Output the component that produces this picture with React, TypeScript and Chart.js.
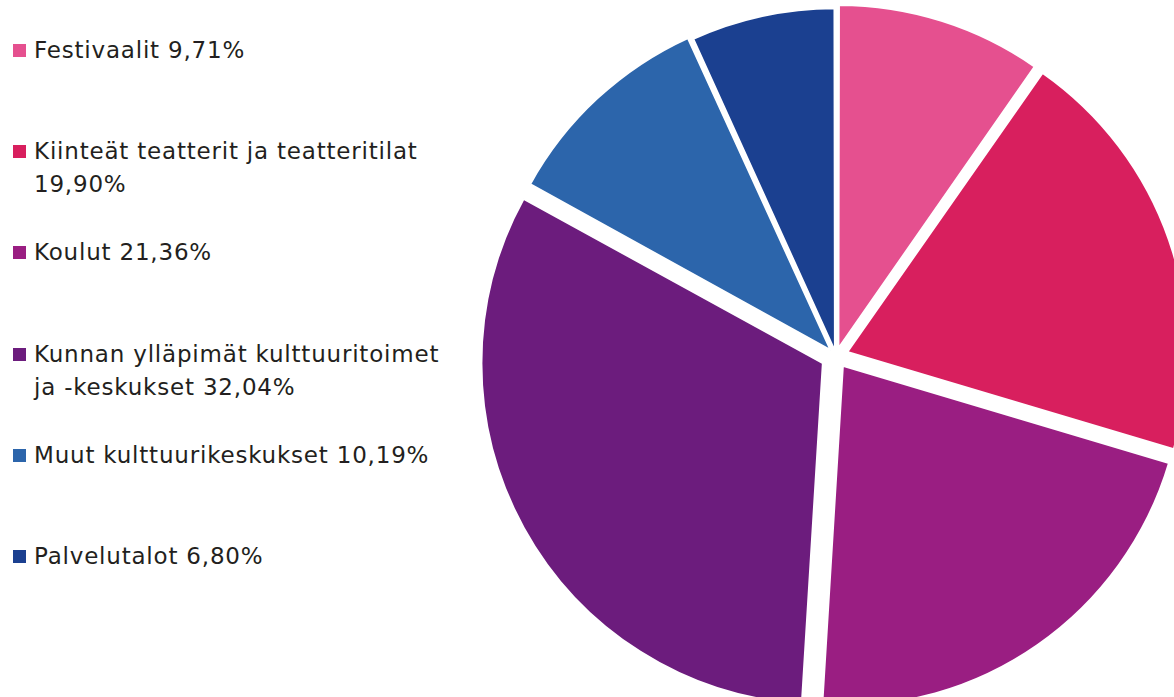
import React, { useEffect, useRef } from "react";
import { Chart, registerables } from "chart.js";

Chart.register(...registerables);

const categories = [
  "Festivaalit",
  "Kiinteät teatterit ja teatteritilat",
  "Koulut",
  "Kunnan ylläpimät kulttuuritoimet ja -keskukset",
  "Muut kulttuurikeskukset",
  "Palvelutalot",
];
const values = [9.71, 19.9, 21.36, 32.04, 10.19, 6.8];
const valueLabels = ["9,71%", "19,90%", "21,36%", "32,04%", "10,19%", "6,80%"];
// Legend line breaks as in the reference
const legendLines = [
  ["Festivaalit 9,71%"],
  ["Kiinteät teatterit ja teatteritilat", "19,90%"],
  ["Koulut 21,36%"],
  ["Kunnan ylläpimät kulttuuritoimet", "ja -keskukset 32,04%"],
  ["Muut kulttuurikeskukset 10,19%"],
  ["Palvelutalot 6,80%"],
];

const sliceColors = ["#E5508F", "#D81F5E", "#9A1E82", "#6C1C7D", "#2C65AB", "#1B4090"];
// Chart.js draws arcs shifted by offset / 4 pixels
const sliceOffsets = [8, 12, 12, 15, 8, 5].map((o) => o * 4);

export default function App() {
  const ref = useRef<HTMLCanvasElement | null>(null);

  useEffect(() => {
    if (!ref.current) return;
    const chart = new Chart(ref.current, {
      type: "pie",
      data: {
        labels: categories.map((c, i) => `${c} ${valueLabels[i]}`),
        datasets: [
          {
            data: values,
            backgroundColor: sliceColors,
            borderColor: "#ffffff",
            borderWidth: 2,
            offset: sliceOffsets,
          },
        ],
      },
      options: {
        animation: false,
        responsive: false,
        devicePixelRatio: 1,
        radius: 340,
        layout: { padding: 0 },
        plugins: {
          legend: { display: false },
          tooltip: { enabled: false },
        },
      },
    });
    return () => chart.destroy();
  }, []);

  return (
    <div
      style={{
        position: "fixed",
        left: 0,
        top: 0,
        width: 1174,
        height: 697,
        overflow: "hidden",
        background: "#ffffff",
      }}
    >
      <canvas
        ref={ref}
        width={760}
        height={760}
        style={{ position: "absolute", left: 456, top: -24, width: 760, height: 760 }}
      />
      {legendLines.map((lines, i) => (
        <div
          key={i}
          style={{
            position: "absolute",
            left: 12,
            top: 34 + i * 101.2,
            fontFamily: "'DejaVu Sans', sans-serif",
            fontSize: 23,
            letterSpacing: "0.8px",
            lineHeight: "33px",
            color: "#231F20",
            whiteSpace: "nowrap",
          }}
        >
          <span
            style={{
              position: "absolute",
              left: 1,
              top: 10,
              width: 13,
              height: 13,
              background: sliceColors[i],
            }}
          />
          <div style={{ marginLeft: 22 }}>
            {lines.map((l, j) => (
              <div key={j}>{l}</div>
            ))}
          </div>
        </div>
      ))}
    </div>
  );
}
